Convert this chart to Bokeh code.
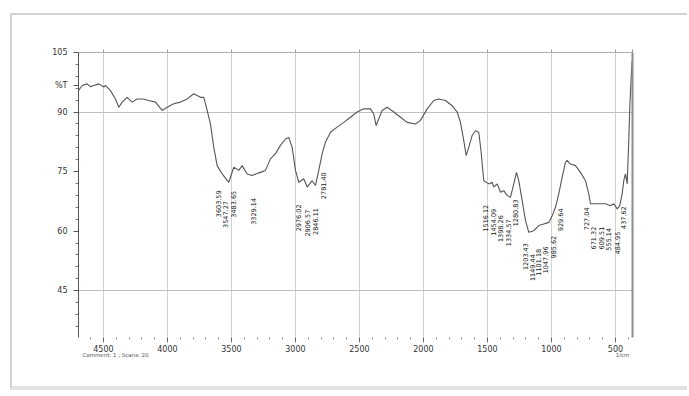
import numpy as np
from bokeh.plotting import figure
from bokeh.models import Range1d, FixedTicker, LinearAxis, ColumnDataSource
from bokeh.embed import file_html
from bokeh.resources import INLINE
from bokeh.core.properties import value

# FTIR transmittance spectrum (wavenumber in 1/cm, %T)
wavenumber = [
    4695.3, 4666.4, 4627.3, 4601.6, 4575.8, 4536.7, 4497.7, 4484.4, 4445.3, 4406.3,
    4380.5, 4353.9, 4314.8, 4275.8, 4236.7, 4187.5, 4148.4, 4093.8, 4041.4, 4002.3,
    3950.8, 3898.4, 3846.1, 3794.5, 3742.2, 3716.4, 3689.8, 3664.1, 3638.3, 3611.7,
    3572.7, 3521.1, 3482.0, 3442.9, 3416.4, 3377.3, 3338.3, 3312.5, 3273.4, 3234.4,
    3195.3, 3156.3, 3117.2, 3078.1, 3052.3, 3025.8, 3000.0, 2974.2, 2935.2, 2908.6,
    2869.5, 2843.8, 2818.0, 2791.4, 2765.6, 2726.6, 2674.2, 2622.7, 2570.3, 2518.0,
    2466.4, 2414.1, 2388.3, 2369.5, 2349.2, 2322.7, 2283.6, 2232.0, 2179.7, 2127.3,
    2062.5, 2023.4, 1971.1, 1919.5, 1880.5, 1828.1, 1775.8, 1736.7, 1710.9, 1685.2,
    1666.4, 1646.1, 1619.5, 1593.8, 1568.0, 1550.8, 1528.9, 1489.8, 1463.3, 1450.8,
    1424.2, 1398.4, 1372.7, 1346.1, 1320.3, 1294.5, 1273.4, 1255.5, 1228.9, 1203.1,
    1177.3, 1138.3, 1099.2, 1060.2, 1021.1, 994.5, 968.8, 943.0, 916.4, 890.6,
    877.3, 851.6, 812.5, 773.4, 734.4, 708.6, 695.3, 656.3, 617.2, 578.1,
    539.1, 513.3, 486.7, 466.4, 447.7, 435.2, 421.9, 408.6, 396.1, 388.3,
    377.3, 369.5,
]
transmittance = [
    95.4, 96.7, 97.1, 96.4, 96.7, 97.1, 96.3, 96.7, 95.4, 93.3,
    91.2, 92.5, 93.7, 92.5, 93.3, 93.3, 92.9, 92.5, 90.4, 91.2,
    92.1, 92.5, 93.3, 94.6, 93.7, 93.7, 90.4, 87.0, 81.1, 76.5,
    74.4, 72.3, 76.1, 75.3, 76.5, 74.4, 74.0, 74.4, 74.8, 75.3,
    78.2, 79.5, 81.6, 83.2, 83.6, 81.1, 75.3, 72.3, 73.2, 71.1,
    72.7, 71.5, 75.3, 79.5, 82.4, 84.9, 86.2, 87.4, 88.7, 90.0,
    90.8, 90.8, 89.5, 86.6, 88.3, 90.4, 91.2, 90.0, 88.7, 87.4,
    87.0, 87.9, 90.8, 92.9, 93.3, 92.9, 91.6, 90.0, 87.4, 82.8,
    79.0, 81.1, 84.1, 85.3, 84.9, 80.3, 72.7, 71.9, 72.3, 71.1,
    71.9, 69.8, 70.2, 69.0, 68.5, 71.9, 74.8, 72.7, 67.7, 62.7,
    59.7, 60.1, 61.4, 61.8, 62.2, 63.9, 66.0, 69.4, 73.6, 77.3,
    77.8, 76.9, 76.5, 74.8, 72.7, 69.4, 66.9, 66.9, 66.9, 66.9,
    66.4, 66.9, 65.6, 66.4, 69.4, 72.7, 74.4, 71.9, 82.8, 91.2,
    98.8, 103.0,
]

# Peak-pick annotations
peak_labels = [
    "3603.59", "3547.27", "3483.65", "3329.14",
    "2976.02", "2906.57", "2846.11", "2781.40",
    "1516.12", "1454.09", "1398.26", "1334.57", "1280.83",
    "1203.43", "1149.44", "1101.18", "1047.96", "985.62", "929.64",
    "727.04", "671.32", "609.51", "555.14", "484.95", "437.62",
]

x_tick_values = [4500, 4000, 3500, 3000, 2500, 2000, 1500, 1000, 500]
y_tick_values = [105, 90, 75, 60, 45]
y_grid_values = [90, 45]
y_unit_label = "%T"
x_unit_label = "1/cm"
footer_note = "Comment: 1 ; Scans: 20"

FONT = "DejaVu Sans"

p = figure(
    width=677, height=377,
    x_range=Range1d(4695, 367), y_range=Range1d(33.2, 105),
    output_backend="svg", toolbar_location=None,
    min_border_left=66, min_border_right=57, min_border_top=37, min_border_bottom=55,
    background_fill_color="white", border_fill_color="white",
    outline_line_color=None,
)
p.margin = (13, 0, 0, 10)
p.styles = {
    "border-top": "2px solid #d2d2d2",
    "border-left": "2px solid #d2d2d2",
    "border-bottom": "4px solid #e2e2e2",
}

minor_x = [v for v in range(4600, 399, -100) if v % 500 != 0]

# bottom axis: ticks and labels only
xa = p.xaxis[0]
xa.ticker = FixedTicker(ticks=x_tick_values, minor_ticks=minor_x)
xa.axis_line_color = None
xa.major_tick_line_color = "#666666"
xa.minor_tick_line_color = "#888888"
xa.major_tick_out = 5
xa.major_tick_in = 0
xa.minor_tick_out = 2
xa.minor_tick_in = 0
xa.major_label_text_font = FONT
xa.major_label_text_font_size = "8px"
xa.major_label_text_color = "#333333"
xa.major_label_standoff = 2

# second row under the axis: comment line and unit
foot_ticks = [4406, 445]
foot = LinearAxis(
    ticker=FixedTicker(ticks=foot_ticks),
    major_label_overrides={foot_ticks[0]: footer_note, foot_ticks[1]: x_unit_label},
    axis_line_color=None, major_tick_line_color=None, minor_tick_line_color=None,
    major_tick_out=0, major_tick_in=0,
    major_label_standoff=-3, major_label_text_font=FONT,
    major_label_text_font_size="5.5px", major_label_text_color="#555555",
)
p.add_layout(foot, "below")

unit_tick = 96.8
minor_y = [v for v in range(102, 33, -3) if v not in y_tick_values]
ya = p.yaxis[0]
ya.ticker = FixedTicker(ticks=y_tick_values + [unit_tick], minor_ticks=minor_y)
ya.major_label_overrides = {unit_tick: y_unit_label}
ya.axis_line_color = "#555555"
ya.major_tick_line_color = "#555555"
ya.minor_tick_line_color = "#777777"
ya.major_tick_out = 5
ya.major_tick_in = 0
ya.minor_tick_out = 3
ya.minor_tick_in = 0
ya.major_label_text_font = FONT
ya.major_label_text_font_size = "8px"
ya.major_label_text_color = "#333333"
ya.major_label_standoff = 6

# frame top line with small ticks, and right edge line
top = LinearAxis(ticker=FixedTicker(ticks=[], minor_ticks=x_tick_values + [370]),
                 axis_line_color="#b0b0b0", minor_tick_line_color="#999999",
                 minor_tick_out=3, minor_tick_in=0, major_tick_line_color=None)
p.add_layout(top, "above")
right = LinearAxis(ticker=FixedTicker(ticks=[]),
                   axis_line_color="#8c8c8c", axis_line_width=2,
                   major_tick_line_color=None, minor_tick_line_color=None)
p.add_layout(right, "right")

p.xgrid.ticker = FixedTicker(ticks=x_tick_values)
p.xgrid.grid_line_color = "#d2d2d2"
p.ygrid.ticker = FixedTicker(ticks=y_grid_values)
p.ygrid.grid_line_color = "#c0c0c0"

p.line(wavenumber, transmittance, line_color="#555555", line_width=1.1)

# peak labels hang below the trace at each picked wavenumber
peak_wn = [float(s) for s in peak_labels]
order = np.argsort(wavenumber)
peak_t = np.interp(peak_wn, np.array(wavenumber)[order], np.array(transmittance)[order])
src = ColumnDataSource(dict(x=peak_wn, y=peak_t, t=peak_labels))
p.text(x="x", y="y", text="t", source=src, angle=np.pi / 2, y_offset=23,
       text_align="right", text_baseline="middle",
       text_font=value(FONT), text_font_size="6.5px", text_color="#111111")

open("out.html", "w").write(file_html(p, INLINE))
